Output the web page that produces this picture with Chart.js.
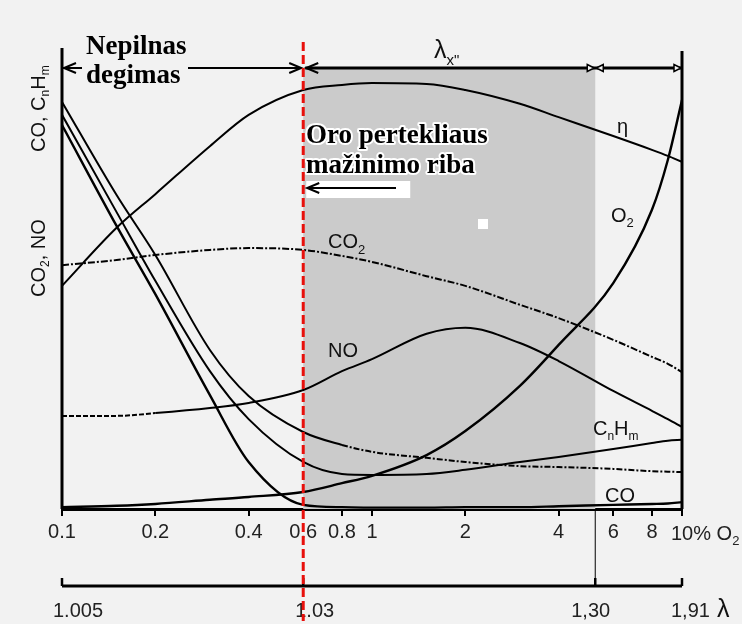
<!DOCTYPE html>
<html>
<head>
<meta charset="utf-8">
<script src="https://cdn.jsdelivr.net/npm/chart.js@4.4.1/dist/chart.umd.min.js"></script>
<style>
  html, body { margin: 0; padding: 0; background: #f2f2f2; }
  #wrap { width: 742px; height: 624px; }
</style>
</head>
<body>
<div id="wrap"><canvas id="chart" width="742" height="624"></canvas></div>
<script>
// O2 % in flue gas (log axis) and curve values (0..100 relative)
const o2 = [0.1, 0.15, 0.2, 0.3, 0.4, 0.6, 0.8, 1, 1.5, 2, 3, 4, 6, 8, 9, 10];
const eta = [48.4, 61.0, 68.3, 78.7, 85.5, 90.9, 92.0, 92.4, 92.2, 90.9, 87.9, 85.0, 80.9, 77.9, 76.6, 75.3];
const co2 = [52.9, 54.0, 55.1, 56.2, 56.6, 56.2, 54.9, 53.6, 50.5, 48.4, 44.3, 41.4, 36.7, 33.0, 31.5, 29.7];
const no = [20.2, 20.2, 20.8, 21.9, 23.0, 25.8, 29.9, 32.5, 38.0, 39.3, 36.0, 32.1, 25.6, 21.3, 19.5, 17.8];
const o2Curve = [0.4, 0.7, 1.1, 2.0, 2.6, 3.7, 5.6, 7.2, 11.7, 16.9, 26.7, 35.6, 49.0, 64.9, 75.7, 88.7];
const upper = [88.3, 68.1, 55.1, 34.5, 24.5, 16.7, 13.9, 12.4, 11.1, 10.2, 9.3, 9.1, 8.7, 8.2, 8.1, 8.0];
const cnhm = [85.5, 64.4, 49.5, 29.9, 19.5, 10.2, 7.6, 7.4, 7.6, 8.5, 10.2, 11.3, 13.0, 14.3, 14.8, 15.0];
const co = [83.3, 61.4, 46.6, 24.7, 10.2, 0.9, 0.4, 0.3, 0.3, 0.4, 0.4, 0.6, 0.9, 1.1, 1.2, 1.5];

const o2Ticks = [0.1, 0.2, 0.4, 0.6, 0.8, 1, 2, 4, 6, 8, 10];
const lambdaAt = [0.1, 0.6, 5.25, 10];
const lambdaLabels = ["1.005", "1.03", "1,30", "1,91"];
const shadeFrom = 0.6;
const shadeTo = 5.25;

const SANS = '"Liberation Sans", Arial, sans-serif';
const SERIF = '"Liberation Serif", "Times New Roman", serif';

Chart.defaults.font.family = SANS;

function pts(ys) {
  return o2.map((x, i) => ({ x: x, y: ys[i] }));
}

function line(label, ys, extra) {
  return Object.assign({
    label: label,
    data: pts(ys),
    borderColor: "#000",
    borderWidth: 2,
    pointRadius: 0,
    cubicInterpolationMode: "monotone",
    fill: false
  }, extra || {});
}

// text with sub-scripts: parts = [text, size, dy]
function richText(ctx, x, y, parts, family) {
  let cx = x;
  parts.forEach(([t, size, dy]) => {
    ctx.font = size + "px " + family;
    ctx.fillText(t, cx, y + (dy || 0));
    cx += ctx.measureText(t).width;
  });
  return cx;
}

function chevron(ctx, x, y, dir, len, half) {
  ctx.beginPath();
  ctx.moveTo(x + dir * len, y - half);
  ctx.lineTo(x, y);
  ctx.lineTo(x + dir * len, y + half);
  ctx.stroke();
}

function openTri(ctx, x, y, dir) {
  ctx.beginPath();
  ctx.moveTo(x, y);
  ctx.lineTo(x - dir * 7, y - 3.5);
  ctx.lineTo(x - dir * 7, y + 3.5);
  ctx.closePath();
  ctx.fillStyle = "#f2f2f2";
  ctx.fill();
  ctx.stroke();
}

const decor = {
  id: "decor",
  beforeDraw(chart) {
    const ctx = chart.ctx;
    ctx.save();
    ctx.fillStyle = "#f2f2f2";
    ctx.fillRect(0, 0, chart.width, chart.height);
    ctx.restore();
  },
  beforeDatasetsDraw(chart) {
    const ctx = chart.ctx;
    const xs = chart.scales.x;
    const a = chart.chartArea;
    const x0 = xs.getPixelForValue(shadeFrom);
    const x1 = xs.getPixelForValue(shadeTo);
    ctx.save();
    ctx.fillStyle = "#cbcbcb";
    ctx.fillRect(x0, 68, x1 - x0, a.bottom - 68);
    ctx.fillStyle = "#ffffff";
    ctx.fillRect(478, 219, 10, 10);
    ctx.restore();
  },
  afterDatasetsDraw(chart) {
    const ctx = chart.ctx;
    const xs = chart.scales.x;
    const a = chart.chartArea;
    const xRed = xs.getPixelForValue(shadeFrom);
    const xEdge = xs.getPixelForValue(shadeTo);
    const xL = xs.getPixelForValue(o2[0]);
    const xR = xs.getPixelForValue(o2[o2.length - 1]);
    ctx.save();
    ctx.strokeStyle = "#000";
    ctx.fillStyle = "#000";
    ctx.lineCap = "butt";

    // frame verticals
    ctx.lineWidth = 3;
    ctx.beginPath();
    ctx.moveTo(xL, a.top);
    ctx.lineTo(xL, a.bottom);
    ctx.moveTo(xR, a.top + 3);
    ctx.lineTo(xR, a.bottom);
    ctx.stroke();

    // top arrows
    ctx.lineWidth = 2;
    ctx.beginPath();
    ctx.moveTo(xL, 68); ctx.lineTo(82, 68);
    ctx.moveTo(188, 68); ctx.lineTo(xRed - 2, 68);
    ctx.stroke();
    chevron(ctx, xL + 2, 68, 1, 12, 5);
    chevron(ctx, xRed - 2, 68, -1, 12, 5);
    ctx.lineWidth = 3;
    ctx.beginPath();
    ctx.moveTo(xRed + 2, 68); ctx.lineTo(xR, 68);
    ctx.stroke();
    ctx.lineWidth = 2;
    chevron(ctx, xRed + 3, 68, 1, 12, 5);
    ctx.lineWidth = 1.5;
    openTri(ctx, xEdge - 1, 68, 1);
    openTri(ctx, xEdge + 1, 68, -1);
    openTri(ctx, xR - 1, 68, 1);

    // serif titles
    ctx.fillStyle = "#000";
    ctx.textAlign = "left";
    ctx.textBaseline = "alphabetic";
    ctx.font = "bold 27px " + SERIF;
    ctx.fillText("Nepilnas", 86, 54);
    ctx.fillText("degimas", 86, 83);

    ctx.fillStyle = "#ffffff";
    ctx.fillRect(xRed + 3, 181, 104, 17);
    ctx.strokeStyle = "#000";
    ctx.lineWidth = 2;
    ctx.beginPath();
    ctx.moveTo(xRed + 4, 188); ctx.lineTo(396, 188);
    ctx.stroke();
    chevron(ctx, xRed + 4, 188, 1, 12, 5);

    ctx.font = "bold 27px " + SERIF;
    ctx.lineJoin = "round";
    ctx.strokeStyle = "#ffffff";
    ctx.lineWidth = 4;
    ctx.strokeText("Oro pertekliaus", 306, 143);
    ctx.strokeText("mažinimo riba", 306, 173);
    ctx.fillStyle = "#000";
    ctx.fillText("Oro pertekliaus", 306, 143);
    ctx.fillText("mažinimo riba", 306, 173);

    // lambda x''
    ctx.fillStyle = "#111";
    richText(ctx, 434, 58, [["λ", 25, 0], ["x\"", 15, 7]], SANS);

    // curve labels
    ctx.fillStyle = "#111";
    richText(ctx, 617, 133, [["η", 20, 0]], SANS);
    richText(ctx, 611, 222, [["O", 20, 0], ["2", 13, 5]], SANS);
    richText(ctx, 328, 248, [["CO", 20, 0], ["2", 13, 6]], SANS);
    richText(ctx, 328, 357, [["NO", 20, 0]], SANS);
    richText(ctx, 593, 435, [["C", 20, 0], ["n", 12, 5], ["H", 20, 0], ["m", 12, 5]], SANS);
    richText(ctx, 605, 502, [["CO", 20, 0]], SANS);

    // rotated y labels
    ctx.save();
    ctx.translate(45, 152);
    ctx.rotate(-Math.PI / 2);
    richText(ctx, 0, 0, [["CO, C", 20, 0], ["n", 12, 4], ["H", 20, 0], ["m", 12, 4]], SANS);
    ctx.restore();
    ctx.save();
    ctx.translate(45, 297);
    ctx.rotate(-Math.PI / 2);
    richText(ctx, 0, 0, [["CO", 20, 0], ["2", 12, 4], [", NO", 20, 0]], SANS);
    ctx.restore();

    // "10% O2" end label of the x axis
    ctx.fillStyle = "#222";
    richText(ctx, xR - 11, 540, [["10% O", 20, 0], ["2", 13, 5]], SANS);

    // lambda axis
    const yL = 586;
    ctx.strokeStyle = "#000";
    ctx.lineWidth = 1;
    ctx.beginPath();
    ctx.moveTo(xEdge, a.bottom + 2);
    ctx.lineTo(xEdge, yL);
    ctx.stroke();
    ctx.lineWidth = 3;
    ctx.beginPath();
    ctx.moveTo(xL, yL); ctx.lineTo(xR, yL);
    ctx.stroke();
    ctx.lineWidth = 2.5;
    const dx = [-9, -8, -24, -11];
    lambdaAt.forEach((v, i) => {
      const px = xs.getPixelForValue(v);
      ctx.beginPath();
      ctx.moveTo(px, yL - 8); ctx.lineTo(px, yL);
      ctx.stroke();
      ctx.fillStyle = "#222";
      ctx.font = "20px " + SANS;
      ctx.fillText(lambdaLabels[i], px + dx[i], 617);
    });
    ctx.font = "25px " + SANS;
    ctx.fillStyle = "#111";
    ctx.fillText("λ", xR + 35, 617);

    // red limit line
    ctx.strokeStyle = "#e8100c";
    ctx.lineWidth = 3;
    ctx.setLineDash([9, 4]);
    ctx.beginPath();
    ctx.moveTo(xRed, 42);
    ctx.lineTo(xRed, 621);
    ctx.stroke();
    ctx.restore();
  }
};

new Chart(document.getElementById("chart"), {
  type: "line",
  data: {
    datasets: [
      line("η", eta),
      line("CO2", co2, { borderDash: [7, 2, 2, 2] }),
      line("NO", no, {
        segment: { borderDash: ctx => ctx.p0DataIndex < 2 ? [5, 2] : undefined }
      }),
      line("O2", o2Curve, { borderWidth: 2.4 }),
      line("", upper, {
        segment: { borderDash: ctx => ctx.p0DataIndex >= 6 ? [6, 2, 2, 2] : undefined }
      }),
      line("CnHm", cnhm),
      line("CO", co, { borderWidth: 2.4 })
    ]
  },
  options: {
    responsive: false,
    animation: false,
    events: [],
    layout: { padding: { left: 62, right: 60, top: 48, bottom: 0 } },
    plugins: { legend: { display: false }, tooltip: { enabled: false } },
    scales: {
      x: {
        type: "logarithmic",
        min: 0.1,
        max: 10,
        afterBuildTicks: axis => { axis.ticks = o2Ticks.map(v => ({ value: v })); },
        afterFit: axis => { axis.height = 115; },
        grid: { drawOnChartArea: false, drawTicks: true, tickLength: 7, color: "#000", lineWidth: 2 },
        border: { display: true, color: "#000", width: 3 },
        ticks: {
          autoSkip: false,
          maxRotation: 0,
          padding: 4,
          color: "#222",
          font: { size: 20 },
          callback: v => (v === 10 ? "" : String(v))
        }
      },
      y: { type: "linear", min: 0, max: 100, display: false }
    }
  },
  plugins: [decor]
});
</script>
</body>
</html>
